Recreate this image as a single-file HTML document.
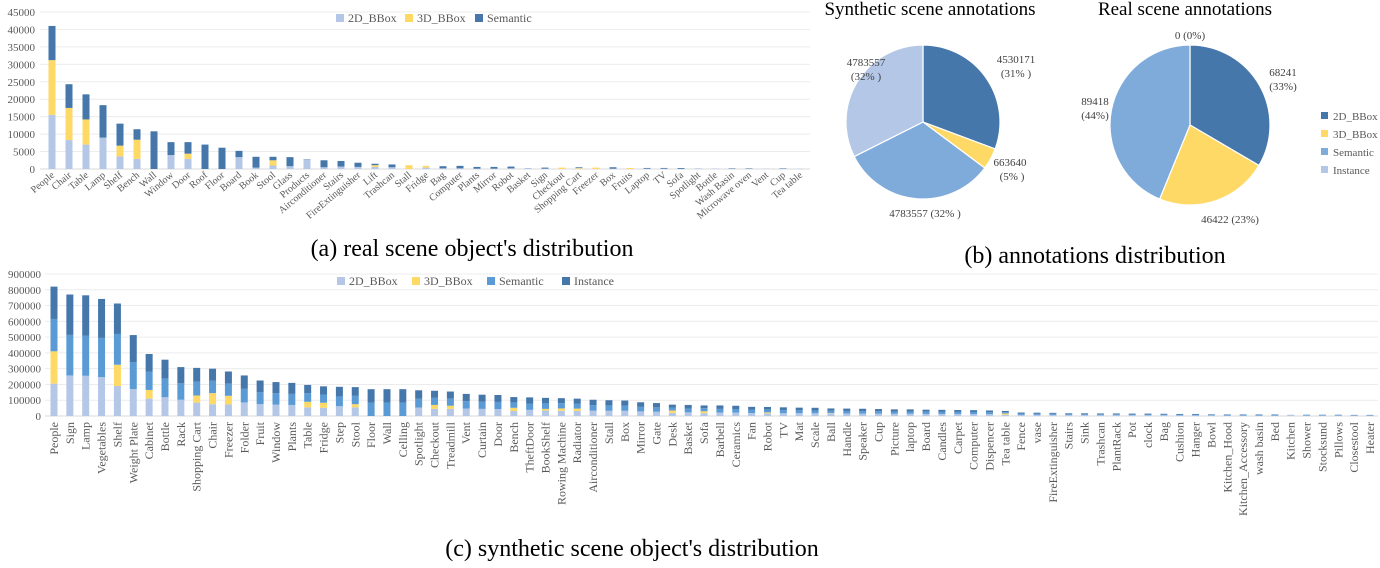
<!DOCTYPE html>
<html><head><meta charset="utf-8"><style>
html,body{margin:0;padding:0;background:#fff;width:1380px;height:568px;overflow:hidden}
svg{display:block;font-family:"Liberation Serif",serif}
</style></head><body>
<svg id="fig" width="1380" height="568" viewBox="0 0 1380 568" xmlns="http://www.w3.org/2000/svg">
<g id="ga"></g>
<g id="gb"></g>
<g id="gc"></g>
<text x="472" y="256" font-size="24" text-anchor="middle" fill="#000">(a) real scene object's distribution</text>
<text x="1095" y="263" font-size="24" text-anchor="middle" fill="#000">(b) annotations distribution</text>
<text x="632" y="556" font-size="24" text-anchor="middle" fill="#000">(c) synthetic scene object's distribution</text>
</svg>
<script>
// ---- Chart (a) data ----
const aCats=["People","Chair","Table","Lamp","Shelf","Bench","Wall","Window","Door","Roof","Floor","Board","Book","Stool","Glass","Products","Airconditioner","Stairs","FireExtinguisher","Lift","Trashcan","Stall","Fridge","Bag","Computer","Plants","Mirror","Robot","Basket","Sign","Checkout","Shopping Cart","Freezer","Box","Fruits","Laptop","TV","Sofa","Spotlight","Bottle","Wash Basin","Microwave oven","Vent","Cup","Tea table"];
const a2D=[15500,8300,7000,9000,3600,2900,0,4000,2900,0,0,3400,400,1000,800,2700,500,700,600,600,500,0,400,200,200,100,100,200,300,100,0,100,0,100,0,100,100,0,200,150,0,0,100,0,100];
const a3D=[15700,9200,7200,0,3100,5500,0,0,1500,0,0,0,0,1500,0,0,0,0,0,500,0,1100,500,0,0,0,0,0,0,0,400,200,400,0,300,0,0,0,0,0,0,0,0,0,0];
const aSem=[9800,6800,7200,9300,6300,3000,10800,3700,3300,7000,6100,1800,3100,1000,2600,100,2000,1600,1200,400,800,0,0,600,700,500,500,500,0,300,0,200,0,400,0,200,200,250,0,0,150,150,0,150,0];
const aTicks=[0,5000,10000,15000,20000,25000,30000,35000,40000,45000];
// ---- Chart (b) data ----
const synLabels=["2D_BBox","3D_BBox","Semantic","Instance"];
const synVals=[4530171,663640,4783557,4783557];
const realVals=[68241,46422,89418,0];
// ---- Chart (c) data ----
const cCats=["People","Sign","Lamp","Vegetables","Shelf","Weight Plate","Cabinet","Bottle","Rack","Shopping Cart","Chair","Freezer","Folder","Fruit","Window","Plants","Table","Fridge","Step","Stool","Floor","Wall","Celling","Spotlight","Checkout","Treadmill","Vent","Curtain","Door","Bench","TheftDoor","BookShelf","Rowing Machine","Radiator","Airconditioner","Stall","Box","Mirror","Gate","Desk","Basket","Sofa","Barbell","Ceramics","Fan","Robot","TV","Mat","Scale","Ball","Handle","Speaker","Cup","Picture","laptop","Board","Candles","Carpet","Computer","Dispencer","Tea table","Fence","vase","FireExtinguisher","Stairs","Sink","Trashcan","PlantRack","Pot","clock","Bag","Cushion","Hanger","Bowl","Kitchen_Hood","Kitchen_Accessory","wash basin","Bed","Kitchen","Shower","Stocksund","Pillows","Closestool","Heater"];
const c2D=[205,257,255,247,190,171,110,119,103,85,75,73,86,75,72,70,55,52,62,55,0,0,0,54,45,45,47,45,44,32,39,35,33,32,34,33,33,29,27,20,23,18,22,22,19,17,18,18,17,15,16,15,15,14,14,13,13,13,12,12,8,7,7,7,6,6,5,5,5,5,5,4,4,4,3,3,3,3,8,3,3,3,2,2];
const c3D=[205,0,0,0,135,0,55,0,0,45,70,55,0,0,0,0,35,32,0,20,0,0,0,0,25,20,0,0,0,20,0,10,15,15,0,0,0,0,0,15,0,12,0,0,0,6,0,0,0,3,0,0,0,0,0,0,0,0,0,0,8,0,0,0,0,0,0,0,0,0,0,0,0,0,0,0,0,0,0,0,0,0,0,0];
const cSem=[205,257,255,248,195,171,115,119,104,88,78,77,86,75,72,70,55,52,62,55,85,85,85,55,45,45,47,45,45,34,40,35,33,32,35,34,33,29,28,19,24,19,23,22,20,17,19,18,18,15,16,16,15,14,14,14,13,13,13,12,8,8,7,7,6,6,6,6,5,5,5,5,5,4,4,4,4,4,0,3,3,3,3,3];
const cInst=[205,256,255,247,193,171,113,119,103,87,77,77,85,75,71,70,52,52,61,53,85,85,85,54,45,45,46,45,44,34,39,35,32,31,34,33,32,29,27,18,23,18,22,21,19,17,18,17,17,15,15,15,14,14,14,13,13,12,12,11,8,7,7,6,5,5,5,5,5,5,4,4,4,3,3,3,3,3,0,2,2,2,2,2];
const cTicks=[0,100000,200000,300000,400000,500000,600000,700000,800000,900000];

const NS="http://www.w3.org/2000/svg";
function mk(parent,tag,attrs){const e=document.createElementNS(NS,tag);for(const k in attrs)e.setAttribute(k,attrs[k]);parent.appendChild(e);return e;}
const LIGHT="#b4c7e7",YEL="#ffd966",DARK="#4677aa",MED="#5b9bd5";

// ---- Chart (a) ----
(function(){
 const g=document.getElementById('ga');
 const x0=40,x1=810,y0=169,yTop=12,max=45000;
 const y=v=>y0-(v/max)*(y0-yTop);
 const step=(800-52)/(aCats.length-1);
 const xc=i=>52+i*step;
 aTicks.forEach(t=>{
  const l=mk(g,'line',{x1:x0,x2:x1,y1:y(t),y2:y(t),stroke:t===0?'#d9d9d9':'#ececec','stroke-width':1});
  
  
  const tx=mk(g,'text',{x:35,y:y(t)+4,'font-size':11,'text-anchor':'end',fill:'#595959'});
  tx.textContent=t;
  
  
 });
 const bw=7;
 aCats.forEach((c,i)=>{
  let acc=0;
  [[a2D[i],LIGHT],[a3D[i],YEL],[aSem[i],DARK]].forEach(([v,col],k)=>{
   if(v<=0)return;
   const r=mk(g,'rect',{x:xc(i)-bw/2,y:y(acc+v),width:bw,height:y(acc)-y(acc+v),fill:col});
   
   
   acc+=v;
  });
  const t=mk(g,'text',{x:xc(i)+3,y:176,'font-size':10,'text-anchor':'end',fill:'#595959',transform:`rotate(-40 ${xc(i)+3} 176)`});
  t.textContent=c;
  
  
 });
 const leg=[["2D_BBox",LIGHT,336],["3D_BBox",YEL,405],["Semantic",DARK,475]];
 leg.forEach(([n,col,x])=>{
  const r=mk(g,'rect',{x:x,y:14,width:8,height:8,fill:col});
  
  
  const t=mk(g,'text',{x:x+12,y:22,'font-size':12,fill:'#595959'});
  t.textContent=n;
  
  
 });
})();

// ---- Chart (b) ----
(function(){
 const g=document.getElementById('gb');
 const cols=[DARK,YEL,"#7fabdb",LIGHT];
 function pie(cx,cy,r,vals,name){
  const tot=vals.reduce((a,b)=>a+b,0);let a=-Math.PI/2;
  vals.forEach((v,i)=>{
   if(v<=0)return;
   const b=a+v/tot*2*Math.PI;
   const p=`M${cx},${cy}L${cx+r*Math.cos(a)},${cy+r*Math.sin(a)}A${r},${r} 0 ${b-a>Math.PI?1:0} 1 ${cx+r*Math.cos(b)},${cy+r*Math.sin(b)}Z`;
   const e=mk(g,'path',{d:p,fill:cols[i],stroke:'#fff','stroke-width':1.2});
   
   
   a=b;
  });
 }
 pie(923,122,77,synVals,'synthetic-pie');
 pie(1190,125,80,realVals,'real-pie');
 const texts=[["Synthetic scene annotations",930,15,19,'middle'],["Real scene annotations",1185,15,19,'middle'],
  ["4530171",1016,63,11,'middle'],["(31% )",1016,77,11,'middle'],["663640",1010,166,11,'middle'],["(5% )",1012,180,11,'middle'],
  ["4783557 (32% )",925,217,11,'middle'],["4783557",866,66,11,'middle'],["(32% )",866,80,11,'middle'],
  ["0 (0%)",1190,39,11,'middle'],["68241",1283,76,11,'middle'],["(33%)",1283,90,11,'middle'],
  ["89418",1095,105,11,'middle'],["(44%)",1095,119,11,'middle'],["46422 (23%)",1230,223,11,'middle']];
 texts.forEach(([s,x,y,fs,an],i)=>{
  const t=mk(g,'text',{x:x,y:y,'font-size':fs,'text-anchor':an,fill:i<2?'#000':'#404040'});
  t.textContent=s;
  
  
 });
 synLabels.forEach((n,i)=>{
  const r=mk(g,'rect',{x:1321,y:112+i*18,width:7,height:7,fill:cols[i]});
  
  
  const t=mk(g,'text',{x:1333,y:120+i*18,'font-size':11,fill:'#595959'});
  t.textContent=n;
  
  
 });
})();

// ---- Chart (c) ----
(function(){
 const g=document.getElementById('gc');
 const x0=45,x1=1378,y0=416,yTop=274,max=900000;
 const y=v=>y0-(v/max)*(y0-yTop);
 const step=(1370-54)/(cCats.length-1);
 const xc=i=>54+i*step;
 cTicks.forEach(t=>{
  const l=mk(g,'line',{x1:x0,x2:x1,y1:y(t),y2:y(t),stroke:t===0?'#d9d9d9':'#ececec','stroke-width':1});
  
  
  const tx=mk(g,'text',{x:41,y:y(t)+4,'font-size':11,'text-anchor':'end',fill:'#595959'});
  tx.textContent=t;
  
  
 });
 const bw=7;
 cCats.forEach((c,i)=>{
  let acc=0;
  [[c2D[i],LIGHT],[c3D[i],YEL],[cSem[i],MED],[cInst[i],DARK]].forEach(([v,col],k)=>{
   if(v<=0)return;
   const vv=v*1000;
   const r=mk(g,'rect',{x:xc(i)-bw/2,y:y(acc+vv),width:bw,height:y(acc)-y(acc+vv),fill:col});
   
   
   acc+=vv;
  });
  const t=mk(g,'text',{x:xc(i)+4,y:422,'font-size':12,'text-anchor':'end',fill:'#595959',transform:`rotate(-90 ${xc(i)+4} 422)`});
  t.textContent=c;
  
  
 });
 const leg=[["2D_BBox",LIGHT,337],["3D_BBox",YEL,412],["Semantic",MED,487],["Instance",DARK,562]];
 leg.forEach(([n,col,x])=>{
  const r=mk(g,'rect',{x:x,y:277,width:8,height:8,fill:col});
  
  
  const t=mk(g,'text',{x:x+12,y:285,'font-size':12,fill:'#595959'});
  t.textContent=n;
  
  
 });
})();
</script>
</body></html>
